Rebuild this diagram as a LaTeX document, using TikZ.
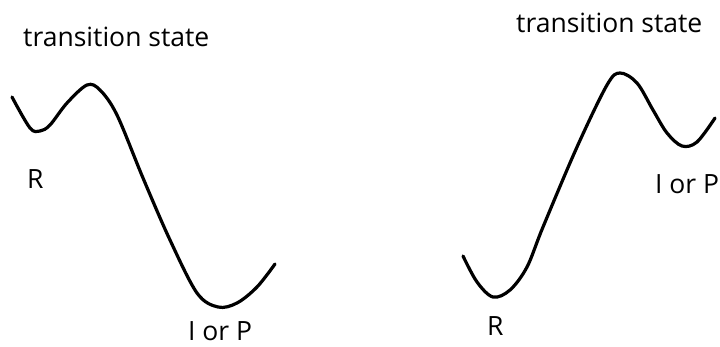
\documentclass[tikz,border=0pt]{standalone}
\usepackage{fontspec}
\setmainfont{Open Sans}
\begin{document}
\begin{tikzpicture}[
    x=1pt,y=-1pt,
    font=\fontsize{26.5}{31}\selectfont,
    curva/.style={line width=3.2pt,line cap=round,smooth,tension=0.55},
    testo/.style={inner sep=0pt,anchor=base west}]

  \useasboundingbox (0,0) rectangle (720,346);

  % profilo di sinistra
  \draw[curva] plot coordinates {(12,97) (30,128) (40,131) (50,125) (67,103)
      (87,85) (100,90) (117,115) (143,178) (170,240) (197,293) (218,307)
      (237,303) (257,287) (275,264)};

  % profilo di destra
  \draw[curva] plot coordinates {(463,256) (477,282) (493,297) (510,290)
      (527,267) (543,227) (577,147) (607,85) (620,73) (637,83) (653,110)
      (667,133) (682,146) (697,142) (715,118)};

  \node[testo] (ts1) at (23,46.5) {transition state};
  \node[testo] (R1)  at (27,188)  {R};
  \node[testo] (P1)  at (188,340) {I or P};

  \node[testo] (ts2) at (516,32)  {transition state};
  \node[testo] (R2)  at (487,335) {R};
  \node[testo] (P2)  at (655,193) {I or P};

\end{tikzpicture}
\end{document}
